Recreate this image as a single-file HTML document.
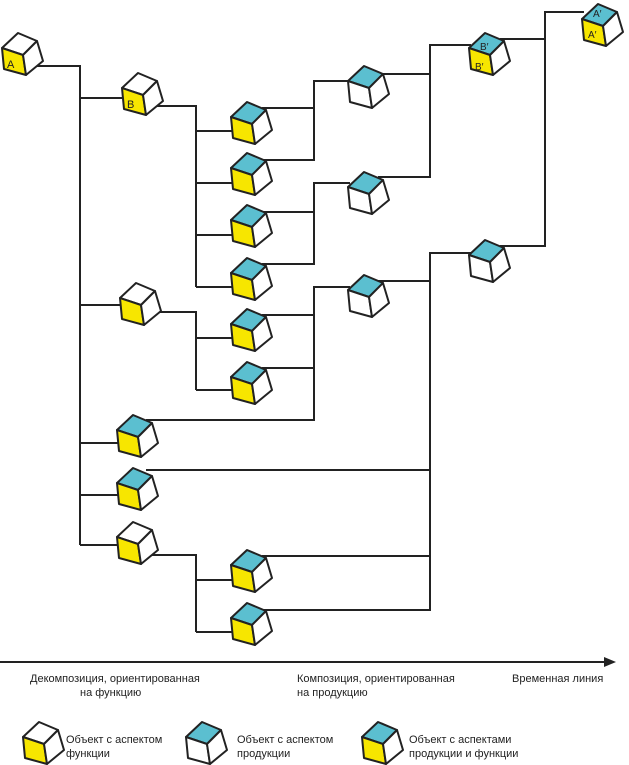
<!DOCTYPE html>
<html><head><meta charset="utf-8"><style>
body{margin:0;background:#fff;width:629px;height:765px;overflow:hidden}
svg{position:absolute;left:0;top:0}
text{font-family:"Liberation Sans",sans-serif;fill:#222}
</style></head><body>
<svg width="629" height="765" viewBox="0 0 629 765">
<defs>
<g id="F" stroke="#222" stroke-width="2" stroke-linejoin="round">
<polygon points="16,0 35,8 21,22 0,15" fill="#fff"/>
<polygon points="0,15 21,22 24,42 2,36" fill="#f7e600"/>
<polygon points="21,22 35,8 41,28 24,42" fill="#fff"/>
</g>
<g id="P" stroke="#222" stroke-width="2" stroke-linejoin="round">
<polygon points="16,0 35,8 21,22 0,15" fill="#5bbfd0"/>
<polygon points="0,15 21,22 24,42 2,36" fill="#fff"/>
<polygon points="21,22 35,8 41,28 24,42" fill="#fff"/>
</g>
<g id="PF" stroke="#222" stroke-width="2" stroke-linejoin="round">
<polygon points="16,0 35,8 21,22 0,15" fill="#5bbfd0"/>
<polygon points="0,15 21,22 24,42 2,36" fill="#f7e600"/>
<polygon points="21,22 35,8 41,28 24,42" fill="#fff"/>
</g>
</defs>
<g stroke="#222" stroke-width="2" fill="none">
<polyline points="36,66 80,66 80,545"/>
<line x1="80" y1="98" x2="124" y2="98"/>
<polyline points="155,106 196,106 196,287"/>
<line x1="196" y1="131" x2="233" y2="131"/>
<line x1="196" y1="183" x2="233" y2="183"/>
<line x1="196" y1="235" x2="233" y2="235"/>
<line x1="196" y1="287" x2="233" y2="287"/>
<polyline points="262,108 314,108 314,81 350,81"/>
<polyline points="262,160 314,160 314,108"/>
<polyline points="262,212 314,212 314,183 350,183"/>
<polyline points="262,264 314,264 314,212"/>
<line x1="80" y1="305" x2="120" y2="305"/>
<polyline points="150,312 196,312 196,390"/>
<line x1="196" y1="338" x2="233" y2="338"/>
<line x1="196" y1="390" x2="233" y2="390"/>
<polyline points="262,315 314,315 314,287 350,287"/>
<polyline points="262,368 314,368"/>
<polyline points="146,420 314,420 314,315"/>
<line x1="80" y1="443" x2="119" y2="443"/>
<line x1="80" y1="495" x2="119" y2="495"/>
<line x1="80" y1="545" x2="119" y2="545"/>
<polyline points="150,555 196,555 196,632"/>
<line x1="196" y1="580" x2="233" y2="580"/>
<line x1="196" y1="632" x2="233" y2="632"/>
<polyline points="146,470 430,470"/>
<polyline points="262,556 430,556"/>
<polyline points="262,610 430,610 430,253 471,253"/>
<polyline points="378,74 430,74"/>
<polyline points="378,177 430,177 430,45 471,45"/>
<polyline points="378,281 430,281"/>
<polyline points="500,39 545,39"/>
<polyline points="500,246 545,246 545,12 584,12"/>
<line x1="0" y1="662" x2="606" y2="662"/>
</g>
<polygon points="604,657 616,662 604,667" fill="#222"/>
<use href="#F" x="2" y="33"/>
<use href="#F" x="122" y="73"/>
<use href="#PF" x="231" y="102"/>
<use href="#PF" x="231" y="153"/>
<use href="#PF" x="231" y="205"/>
<use href="#PF" x="231" y="258"/>
<use href="#F" x="120" y="283"/>
<use href="#PF" x="231" y="309"/>
<use href="#PF" x="231" y="362"/>
<use href="#PF" x="117" y="415"/>
<use href="#PF" x="117" y="468"/>
<use href="#F" x="117" y="522"/>
<use href="#PF" x="231" y="550"/>
<use href="#PF" x="231" y="603"/>
<use href="#P" x="348" y="66"/>
<use href="#P" x="348" y="172"/>
<use href="#P" x="348" y="275"/>
<use href="#P" x="469" y="240"/>
<use href="#PF" x="469" y="33"/>
<use href="#PF" x="582" y="4"/>
<text x="7" y="68" font-size="11">A</text>
<text x="127" y="108" font-size="11">B</text>
<text x="480" y="50" font-size="10">B′</text>
<text x="475" y="70" font-size="10">B′</text>
<text x="593" y="17" font-size="10">A′</text>
<text x="588" y="38" font-size="10">A′</text>
<g font-size="11">
<text x="30" y="682">Декомпозиция, ориентированная</text>
<text x="80" y="696">на функцию</text>
<text x="297" y="682">Композиция, ориентированная</text>
<text x="297" y="696">на продукцию</text>
<text x="512" y="682">Временная линия</text>
<text x="66" y="743">Объект с аспектом</text>
<text x="66" y="757">функции</text>
<text x="237" y="743">Объект с аспектом</text>
<text x="237" y="757">продукции</text>
<text x="409" y="743">Объект с аспектами</text>
<text x="409" y="757">продукции и функции</text>
</g>
<use href="#F" x="23" y="722"/>
<use href="#P" x="186" y="722"/>
<use href="#PF" x="362" y="722"/>
</svg>
</body></html>
